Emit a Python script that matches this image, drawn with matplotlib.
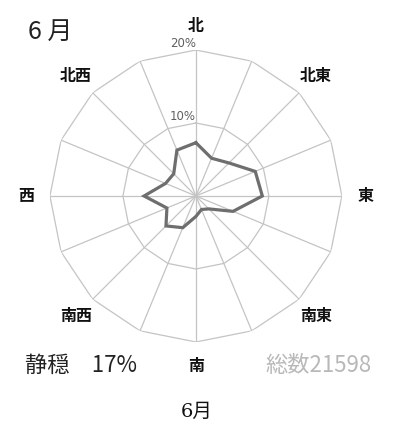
import numpy as np
import matplotlib
matplotlib.use("Agg")
import matplotlib.pyplot as plt

plt.rcParams['font.family'] = ['Noto Sans CJK JP', 'DejaVu Sans']

# wind direction frequency (%), clockwise from north, 16 directions
directions = ['北', '北北東', '北東', '東北東', '東', '東南東', '南東', '南南東',
              '南', '南南西', '南西', '西南西', '西', '西北西', '北西', '北北西']
freq = [7.3, 5.6, 6.4, 8.8, 9.1, 5.5, 2.5, 2.0,
        2.8, 4.7, 5.8, 4.3, 7.1, 4.5, 4.3, 6.8]
label_dirs = ['北', '北東', '東', '南東', '南', '南西', '西', '北西']
rings = [10, 20]
ring_labels = ['10%', '20%']
calm = 17
total = 21598
month = '6月'

n = len(directions)
theta = np.arange(n) * 2 * np.pi / n

fig = plt.figure(figsize=(3.93, 4.30), dpi=100)
ax = fig.add_axes([0.127, 0.2047, 0.743, 0.679], projection='polar')
ax.set_theta_zero_location('N')
ax.set_theta_direction(-1)
ax.set_ylim(0, 20)
ax.set_axis_off()

grid_c = '#c4c4c4'
# polygon rings
for r in rings:
    t = np.append(theta, theta[0])
    ax.plot(t, [r] * (n + 1), color=grid_c, lw=0.9, zorder=1)
# spokes
for t in theta:
    ax.plot([t, t], [0, rings[-1]], color=grid_c, lw=0.9, zorder=1)

for r, lab in zip(rings, ring_labels):
    ax.text(0, r, lab, ha='right', va='bottom', fontsize=8.5, color='#606060',
            family=['DejaVu Sans'])

# data line
t = np.append(theta, theta[0])
f = freq + [freq[0]]
ax.plot(t, f, color='#6e6e6e', lw=2.3, zorder=3, solid_joinstyle='miter')

# direction labels
for lab in label_dirs:
    i = directions.index(lab)
    ax.text(theta[i], 23.3, lab, ha='center', va='center', fontsize=11.5,
            fontweight='bold', color='#111111')

fig.text(0.07, 0.925, '6 月', fontsize=18, ha='left', va='center', color='#222222')
fig.text(0.063, 0.15, f'静穏　{calm}%', fontsize=16, ha='left', va='center',
         color='#222222')
fig.text(0.945, 0.15, f'総数{total}', fontsize=16, ha='right', va='center',
         color='#b8b8b8')
fig.text(0.5, 0.042, month, fontsize=14, ha='center', va='center', color='#111111',
         family=['DejaVu Serif', 'Noto Sans CJK JP'])

fig.savefig('out.png', dpi=100, facecolor='white')
